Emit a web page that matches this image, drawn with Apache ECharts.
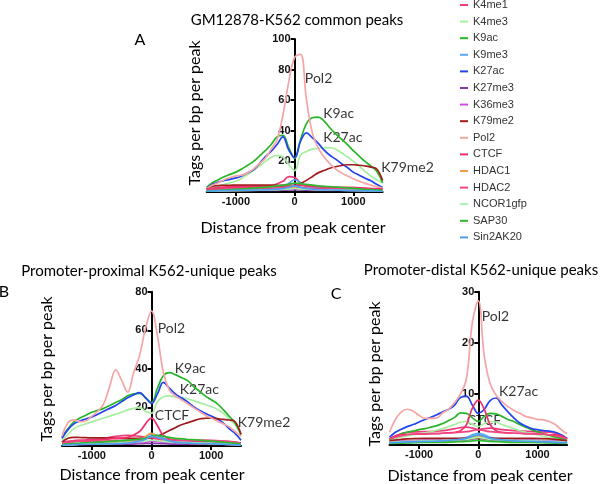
<!DOCTYPE html>
<html><head><meta charset="utf-8">
<script src="https://cdn.jsdelivr.net/npm/echarts@6/dist/echarts.min.js"></script>
<style>html,body{margin:0;padding:0;background:#fff}#c{width:600px;height:484px}</style>
</head><body><div id="c"></div>
<script>
const seriesNames = ['K4me1','K4me3','K9ac','K9me3','K27ac','K27me3','K36me3','K79me2','Pol2','CTCF','HDAC1','HDAC2','NCOR1gfp','SAP30','Sin2AK20'];
const seriesColors = ['#ee3a78','#a8eea0','#27b527','#5aa8f5','#2244ee','#7b3aa6','#d04fe6','#a11d1d','#f5a5a5','#f0306c','#f4a040','#f04682','#aaf2aa','#2cbb2c','#4d9ff0'];
const xFine = [-1500,-1400,-1300,-1200,-1100,-1000,-900,-800,-700,-600,-500,-400,-300,-200,-100,0,100,200,300,400,500,600,700,800,900,1000,1100,1200,1300,1400,1500];
const xCoarse = [-1500,-1200,-900,-600,-400,-200,-100,0,100,200,400,600,900,1200,1500];
const xTickValues = [-1000,0,1000];

// Panel A: GM12878-K562 common peaks (fine grid)
const A_Pol2   = [2,4.5,6,8,9.5,10.5,11,12.5,15,18.5,22,28,34,50,72,88,90,61,39,29,23,18.5,15,12.5,10.5,8.7,7,5.7,4.5,3.5,2.5];
const A_K9ac   = [3,6,8,10,11.5,13,15,17.5,20,23.5,27,31,36,37,29,22,34,44.5,48.5,49,46.5,42,38,34.5,31,27,23.5,20,17,13.5,6];
const A_K27ac  = [2,5,6.5,7.5,8.3,9.2,10.5,12.5,14.5,18.5,23,26.5,31,36,27.5,22.5,33,38.7,35.5,32,27.5,24,21.5,18.5,16,13,11,9,7.3,5,3];
const A_K4me3  = [1.7,3,4,5,6,7,9,11.5,14,17,20,22.5,24,23,18,14,24,26.5,28,28.5,29,29,28,25.5,23,20,17,13.5,10.5,8,6];
const A_K79me2 = [1.7,3.8,4.2,4.3,4.4,4.5,4.5,4.5,4.5,4.5,4.5,4.5,4.3,4,3.8,3.5,5.5,7.6,10,12.5,14,15.5,16.5,17.3,17.8,17.8,17.5,17,16.3,15,7.5];
// Panel A (coarse grid)
const A_K4me1    = [1.5,2.5,3,3.2,4,7,10,9.5,6,4,3,3,2.6,2.3,1.5];
const A_CTCF     = [2,3.2,3.5,3.5,3.5,4.5,5,5.5,4.5,4,3.5,3.2,3,2.6,2];
const A_HDAC2    = [1.2,2,2.2,2.3,2.5,3,3.5,4,3,2.5,2.3,2.1,2,1.8,1.2];
const A_K9me3    = [0.8,1.1,1.3,1.7,2,3.5,5.5,8,6,4,2.5,2,1.6,1.2,0.8];
const A_Sin2AK20 = [0.5,0.9,1.1,1.3,1.5,2.2,3,4,3,2.3,1.5,1.3,1.1,0.8,0.5];
const A_SAP30    = [0.8,1.3,2,2.8,3.5,4.5,5,5.8,5.5,5,4,3.5,2.7,1.8,1];
const A_HDAC1    = [0.5,0.9,1,1.3,1.7,2.3,2.7,3.2,2.7,2.3,1.7,1.5,1.2,0.9,0.6];
const A_NCOR1gfp = [0.5,0.9,1,1.2,1.4,1.7,2,2.3,2,1.8,1.4,1.3,1.1,0.9,0.6];
const A_K27me3   = [0.6,0.8,1,1,1,1.2,1.3,1.3,1.3,1.2,1,1,1,0.9,0.6];
const A_K36me3   = [0.7,1.1,1.2,1.3,1.5,1.8,2,2.2,2,1.8,1.5,1.5,1.4,1.2,0.8];

// Panel B: Promoter-proximal K562-unique peaks (fine grid)
const B_Pol2   = [5,12,13.5,12.6,13,15.5,18,22,31,39.5,34,28,38,47,61,70,57,38,29,26,24,22,20,18,16,14.5,13,11.5,10,7.5,5];
const B_K9ac   = [4.5,9,12.5,14.5,16,17.5,18.5,19.5,21,22.5,24,26,27,27.3,25,22.5,30,36.5,38,37,35.5,34,31,28.5,26,24,22,19,15.5,12,6];
const B_K27ac  = [4,8.5,11.5,13,14,15,16.5,18,19.5,21,23,25,26.5,27.7,25,22,27,33,30,27,25,23,20.5,18.5,17,15.5,14,12,9,6.5,3];
const B_K4me3  = [3,6,9,10.5,11.5,12.5,13.5,14.5,15.5,16.5,17.5,18.7,19.5,20,18,17,23,25.5,26,25.5,25,24.5,23.5,22.5,21.5,20.5,19,17,14,11,6];
const B_K79me2 = [2,4,4.5,4.4,4.3,4.2,4.2,4.2,4.1,4,4,4,4,4,4,4.2,5,6.5,8,9.5,11,12,13,14,14.4,14.5,14.2,13.8,13.5,12.6,6];
// Panel B (coarse grid)
const B_CTCF     = [1.5,2.5,3,4,4.5,7.5,11.5,14.5,10.5,5.5,3,2.8,2.5,2.2,1.5];
const B_K4me1    = [2,3,3.5,5,5.5,5,4.5,4,3.5,3,2.8,2.5,2.3,2.5,1.5];
const B_HDAC2    = [1.5,2.5,2.5,2.8,3,3.5,4,4.5,4,3.5,3,2.8,3,2.5,1.5];
const B_HDAC1    = [0.5,1,1.2,1.5,2,3,5,6.5,5,3,2,1.5,1.2,1,0.5];
const B_K9me3    = [0.8,1,1.2,1.5,2,3,4.5,6,5.5,4,2.5,2,1.5,1.2,0.8];
const B_Sin2AK20 = [0.5,0.8,1,1.2,1.5,2.5,3.5,5,4.5,3.5,2,1.5,1.2,1,0.5];
const B_SAP30    = [0.8,1.5,2,2.5,3,3.5,4,5,5.5,5,4,3.5,2.8,2,1];
const B_NCOR1gfp = [0.5,1,1.2,1.5,1.8,2.2,2.6,3,2.8,2.4,2,1.8,1.5,1.2,0.6];
const B_K27me3   = [0.5,0.8,1,1,1,1.2,1.3,1.4,1.3,1.2,1,1,1,0.8,0.5];
const B_K36me3   = [0.6,1,1.2,1.3,1.5,1.8,2,2.5,2.3,2,1.8,1.6,1.5,1.2,0.8];

// Panel C: Promoter-distal K562-unique peaks (fine grid)
const C_Pol2  = [2.5,5,6.5,7,6.6,5.8,5.2,5.2,5.3,6.3,7,8.3,10,13,24,28.2,17.5,12,9.8,8.5,7.5,6.8,6.2,5.6,5.3,5,4.9,4.6,4,3,2.2];
const C_K27ac = [1.5,2.5,3.1,3.6,4,4.5,5,5.4,5.9,6.5,7,7.8,9.3,9.5,7.8,6.2,7,8.7,9.2,7.8,6.5,5.3,4.3,3.7,3.2,3,2.8,2.7,2.5,2,1.3];
const C_K9ac  = [1,1.7,2.2,2.5,2.7,3,3.2,3.5,3.8,4.2,4.8,5.4,6.3,6.2,5.3,4.6,5.6,6.2,6.1,5.6,5,4.6,4,3.5,3,2.6,2.2,1.9,1.6,1.3,1];
const C_K4me3 = [0.8,1.3,1.6,1.8,2,2.2,2.4,2.6,2.9,3.2,3.6,4,4.5,4.6,4,3.6,4.2,4.6,4.5,4,3.6,3.2,2.8,2.5,2.2,2,1.7,1.5,1.3,1.1,0.8];
const C_CTCF  = [1.2,1.8,2,2.1,2.1,2.1,2.1,2.2,2.2,2.3,2.4,2.5,2.8,4,7.2,8.8,7,4,2.8,2.5,2.4,2.3,2.3,2.2,2.2,2.1,2.1,2,2,1.8,1.2];
// Panel C (coarse grid)
const C_K4me1    = [1,2.5,2.6,2.8,3.2,3.5,3.3,3,3.2,3.3,3,2.8,2.6,2.5,1.2];
const C_HDAC2    = [1.2,2,2.2,2.3,2.4,2.6,2.8,3,2.8,2.6,2.4,2.3,2.2,2,1.2];
const C_K79me2   = [0.8,1.2,1.3,1.3,1.3,1.3,1.3,1.3,1.3,1.3,1.3,1.3,1.3,1.2,0.8];
const C_K9me3    = [0.5,0.8,0.9,1,1.2,1.5,2,2.3,2,1.5,1.2,1,0.9,0.8,0.5];
const C_Sin2AK20 = [0.4,0.6,0.7,0.8,1,1.3,1.7,2,1.7,1.3,1,0.8,0.7,0.6,0.4];
const C_HDAC1    = [0.4,0.6,0.7,0.8,1,1.2,1.5,1.8,1.5,1.2,1,0.8,0.7,0.6,0.4];
const C_SAP30    = [0.3,0.4,0.5,0.5,0.6,0.7,0.8,0.9,0.8,0.7,0.6,0.5,0.5,0.4,0.3];
const C_NCOR1gfp = [0.5,0.7,0.8,0.9,1,1.1,1.3,1.5,1.3,1.1,1,0.9,0.8,0.7,0.5];
const C_K27me3   = [0.5,0.7,0.8,0.8,0.9,1,1.2,1.3,1.2,1,0.9,0.8,0.8,0.7,0.5];
const C_K36me3   = [0.5,0.8,0.9,1,1.1,1.3,1.6,1.9,1.6,1.3,1.1,1,0.9,0.8,0.5];

// Annotations [x, y, text]
const annotA = [[175,74.5,'Pol2'],[487,51,'K9ac'],[487,35.6,'K27ac'],[1477,15.7,'K79me2']];
const annotB = [[105,61,'Pol2'],[390,40,'K9ac'],[474,29.5,'K27ac'],[55,16,'CTCF'],[1446,12.4,'K79me2']];
const annotC = [[57,25.1,'Pol2'],[350,10.4,'K27ac'],[-197,4.7,'CTCF']];

const yMaxA = 100, yStepA = 20;
const yMaxB = 80, yStepB = 20;
const yMaxC = 30, yStepC = 10;

const panelA = {
  K4me1:[xCoarse,A_K4me1], K4me3:[xFine,A_K4me3], K9ac:[xFine,A_K9ac], K9me3:[xCoarse,A_K9me3],
  K27ac:[xFine,A_K27ac], K27me3:[xCoarse,A_K27me3], K36me3:[xCoarse,A_K36me3], K79me2:[xFine,A_K79me2],
  Pol2:[xFine,A_Pol2], CTCF:[xCoarse,A_CTCF], HDAC1:[xCoarse,A_HDAC1], HDAC2:[xCoarse,A_HDAC2],
  NCOR1gfp:[xCoarse,A_NCOR1gfp], SAP30:[xCoarse,A_SAP30], Sin2AK20:[xCoarse,A_Sin2AK20]
};
const panelB = {
  K4me1:[xCoarse,B_K4me1], K4me3:[xFine,B_K4me3], K9ac:[xFine,B_K9ac], K9me3:[xCoarse,B_K9me3],
  K27ac:[xFine,B_K27ac], K27me3:[xCoarse,B_K27me3], K36me3:[xCoarse,B_K36me3], K79me2:[xFine,B_K79me2],
  Pol2:[xFine,B_Pol2], CTCF:[xCoarse,B_CTCF], HDAC1:[xCoarse,B_HDAC1], HDAC2:[xCoarse,B_HDAC2],
  NCOR1gfp:[xCoarse,B_NCOR1gfp], SAP30:[xCoarse,B_SAP30], Sin2AK20:[xCoarse,B_Sin2AK20]
};
const panelC = {
  K4me1:[xCoarse,C_K4me1], K4me3:[xFine,C_K4me3], K9ac:[xFine,C_K9ac], K9me3:[xCoarse,C_K9me3],
  K27ac:[xFine,C_K27ac], K27me3:[xCoarse,C_K27me3], K36me3:[xCoarse,C_K36me3], K79me2:[xCoarse,C_K79me2],
  Pol2:[xFine,C_Pol2], CTCF:[xFine,C_CTCF], HDAC1:[xCoarse,C_HDAC1], HDAC2:[xCoarse,C_HDAC2],
  NCOR1gfp:[xCoarse,C_NCOR1gfp], SAP30:[xCoarse,C_SAP30], Sin2AK20:[xCoarse,C_Sin2AK20]
};

const gridsPx = [
  {left:206.6, top:39, width:176, height:153},
  {left:62, top:291.7, width:179, height:154.3},
  {left:389.5, top:291.7, width:177.6, height:153.3}
];

const chart = echarts.init(document.getElementById('c'), null, {renderer:'canvas'});
const TXT = 'Lato';
const NUM = 'Liberation Sans';

function mkX(gi){
  return {type:'value', gridIndex:gi, min:-1500, max:1500,
    axisLine:{show:true, onZero:false, lineStyle:{color:'#000', width:2}},
    axisTick:{show:true, customValues:xTickValues, length:4, lineStyle:{color:'#000', width:2}},
    axisLabel:{customValues:xTickValues, formatter:(v)=>String(v), margin:4, fontFamily:NUM, fontWeight:'bold', fontSize:11, color:'#111'},
    splitLine:{show:false}};
}
function mkY(gi, max, step){
  // y axis drawn at x = 0 (centre of the symmetric x range)
  return {type:'value', gridIndex:gi, min:0, max:max, interval:step, offset:-gridsPx[gi].width/2,
    axisLine:{show:true, onZero:false, lineStyle:{color:'#000', width:2}},
    axisTick:{show:true, length:4, lineStyle:{color:'#000', width:2}},
    axisLabel:{showMinLabel:false, margin:4, fontFamily:NUM, fontWeight:'bold', fontSize:11, color:'#111'},
    splitLine:{show:false}};
}
const series = [];
[panelA, panelB, panelC].forEach((p, gi) => {
  seriesNames.forEach((n, i) => {
    const xs = p[n][0], ys = p[n][1];
    series.push({type:'line', name:n, xAxisIndex:gi, yAxisIndex:gi, smooth:0.4, showSymbol:false, symbol:'none',
      color:seriesColors[i], lineStyle:{width:1.7, color:seriesColors[i]},
      data: xs.map((x, k) => [x, ys[k]]), silent:true, animation:false});
  });
});
[annotA, annotB, annotC].forEach((a, gi) => {
  series.push({type:'scatter', name:'annot'+gi, xAxisIndex:gi, yAxisIndex:gi, symbolSize:0, clip:false, silent:true, animation:false,
    data:a, label:{show:true, position:'right', distance:0, formatter:(q)=>q.value[2], fontFamily:TXT, fontSize:14, color:'#000'}});
});

function txt(x, y, s, size, rot){
  return {type:'text', x:x, y:y, rotation:rot||0, silent:true,
    style:{text:s, font:size+'px '+TXT, fill:'#000', align:'center', verticalAlign:'middle', textAlign:'center', textVerticalAlign:'middle'}};
}

chart.setOption({
  animation:false,
  backgroundColor:'#fff',
  grid:gridsPx,
  xAxis:[mkX(0), mkX(1), mkX(2)],
  yAxis:[mkY(0,yMaxA,yStepA), mkY(1,yMaxB,yStepB), mkY(2,yMaxC,yStepC)],
  legend:{data:seriesNames, orient:'vertical', left:460, top:-2, padding:0, itemWidth:8, itemHeight:2, itemGap:2.6, icon:'rect',
    selectedMode:false, textStyle:{fontFamily:NUM, fontSize:11, lineHeight:14, color:'#333'}},
  series:series,
  graphic:[
    txt(297, 20, 'GM12878-K562 common peaks', 15),
    txt(149, 271, 'Promoter-proximal K562-unique peaks', 15),
    txt(481, 270, 'Promoter-distal K562-unique peaks', 15),
    txt(140, 40, 'A', 16), txt(4, 292, 'B', 16), txt(336, 294, 'C', 16),
    txt(195, 113, 'Tags per bp per peak', 16, Math.PI/2),
    txt(47, 369, 'Tags per bp per peak', 16, Math.PI/2),
    txt(375, 374, 'Tags per bp per peak', 16, Math.PI/2),
    txt(293, 228, 'Distance from peak center', 16),
    txt(152, 475, 'Distance from peak center', 16),
    txt(480, 476, 'Distance from peak center', 16)
  ]
});
</script></body></html>
